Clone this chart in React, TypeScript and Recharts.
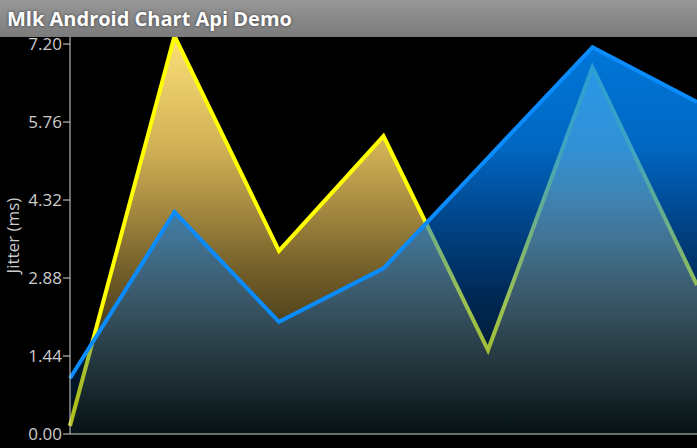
import React from 'react';
import { AreaChart, Area, XAxis, YAxis } from 'recharts';

// sample positions along the x axis (no labels are shown)
const samples = ['1', '2', '3', '4', '5', '6', '7'];
const yellowJitter = [0.15, 7.35, 3.38, 5.5, 1.55, 6.77, 2.75];
const blueJitter = [1.03, 4.1, 2.07, 3.06, 5.1, 7.14, 6.13];
const yTicks = [0, 1.44, 2.88, 4.32, 5.76, 7.2];

const data = samples.map((s, i) => ({
  sample: s,
  yellow: yellowJitter[i],
  blue: blueJitter[i]
}));

const W = 697;
const H = 448;
const TITLE_H = 37;
const AXIS_H = 14;
const PLOT_TOP = TITLE_H;
const PLOT_BOTTOM = H - AXIS_H;

const font = '"Open Sans", sans-serif';

const App: React.FC = () => {
  return (
    <div
      style={{
        position: 'absolute',
        top: 0,
        left: 0,
        width: W,
        height: H,
        background: '#000',
        overflow: 'hidden'
      }}
    >
      <div style={{ position: 'absolute', top: 0, left: 0 }}>
        <AreaChart
          width={W}
          height={H}
          data={data}
          margin={{ top: TITLE_H, right: 0, left: 0, bottom: 0 }}
        >
          <defs>
            <linearGradient id="yellowFill" gradientUnits="userSpaceOnUse" x1="0" y1={PLOT_TOP} x2="0" y2={PLOT_BOTTOM}>
              <stop offset="0" stopColor="rgb(252,224,120)" stopOpacity={1} />
              <stop offset="0.3" stopColor="rgb(204,172,82)" stopOpacity={1} />
              <stop offset="0.6" stopColor="rgb(112,92,40)" stopOpacity={1} />
              <stop offset="1" stopColor="rgb(8,8,4)" stopOpacity={1} />
            </linearGradient>
            <linearGradient id="blueFill" gradientUnits="userSpaceOnUse" x1="0" y1={PLOT_TOP} x2="0" y2={PLOT_BOTTOM}>
              <stop offset="0" stopColor="rgb(0,140,255)" stopOpacity={0.86} />
              <stop offset="0.28" stopColor="rgb(0,135,255)" stopOpacity={0.76} />
              <stop offset="0.66" stopColor="rgb(0,100,210)" stopOpacity={0.4} />
              <stop offset="1" stopColor="rgb(0,40,60)" stopOpacity={0.3} />
            </linearGradient>
          </defs>
          <XAxis
            dataKey="sample"
            tick={false}
            tickLine={false}
            height={AXIS_H}
            stroke="#d4d4d4"
          />
          <YAxis
            domain={[0, 7.33]}
            ticks={yTicks}
            allowDataOverflow
            width={70}
            tickSize={7}
            tickMargin={1}
            stroke="#d4d4d4"
            tick={{ fill: '#cccccc', fontSize: 17, fontFamily: font }}
            tickFormatter={(v: number) => v.toFixed(2)}
            label={{
              value: 'Jitter (ms)',
              angle: -90,
              position: 'insideLeft',
              offset: 13,
              style: { textAnchor: 'middle', fill: '#cccccc', fontSize: 17, fontFamily: font }
            }}
          />
          <Area
            type="linear"
            dataKey="yellow"
            stroke="#ffff00"
            strokeWidth={4}
            fill="url(#yellowFill)"
            fillOpacity={1}
            dot={false}
            activeDot={false}
            isAnimationActive={false}
          />
          <Area
            type="linear"
            dataKey="blue"
            stroke="#0a8cff"
            strokeWidth={4}
            fill="url(#blueFill)"
            fillOpacity={1}
            dot={false}
            activeDot={false}
            isAnimationActive={false}
          />
        </AreaChart>
      </div>
      <div
        style={{
          position: 'absolute',
          top: 0,
          left: 0,
          width: W,
          height: TITLE_H,
          background: 'linear-gradient(#979797, #7b7b7b)',
          color: '#fff',
          fontFamily: font,
          fontWeight: 700,
          fontSize: 20,
          lineHeight: `${TITLE_H}px`,
          paddingLeft: 7,
          textShadow: '0 0 3px rgba(0,0,0,0.6)',
          boxSizing: 'border-box',
          zIndex: 1
        }}
      >
        Mlk Android Chart Api Demo
      </div>
    </div>
  );
};

export default App;
